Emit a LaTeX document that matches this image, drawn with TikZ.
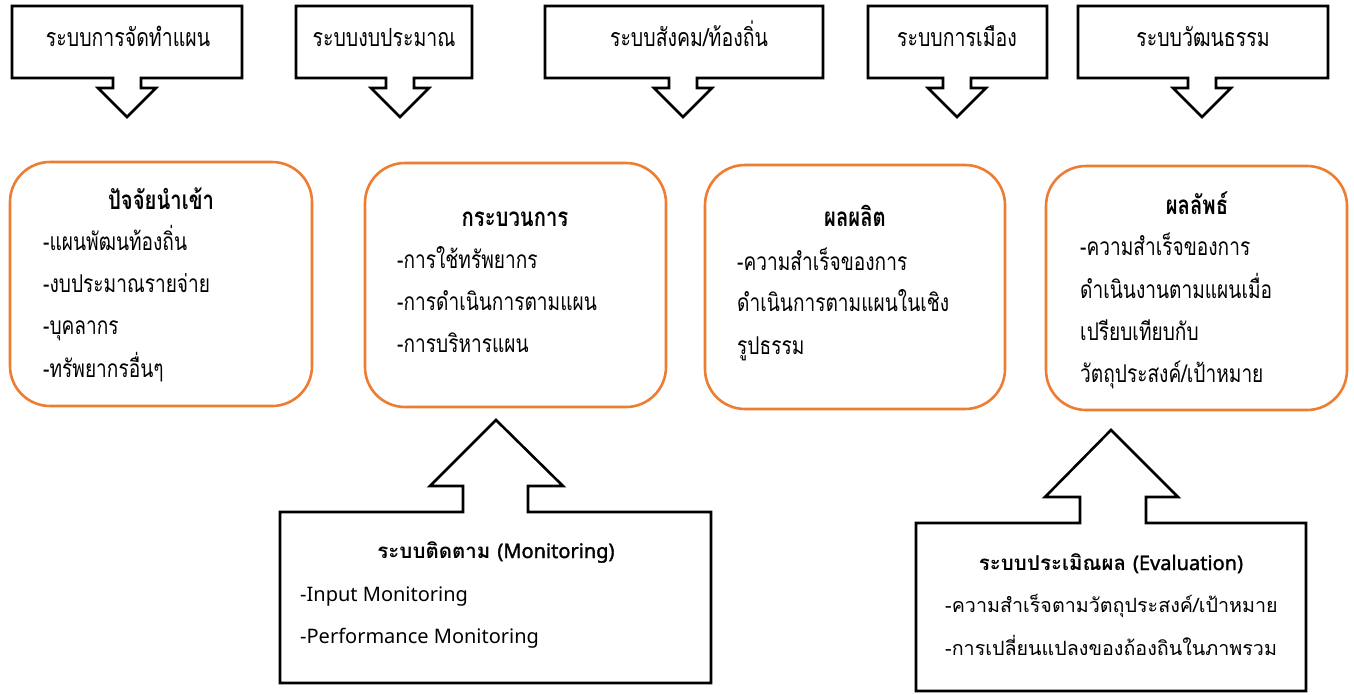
\documentclass[tikz,border=0pt]{standalone}
\usepackage{fontspec}
\setmainfont{Noto Sans}
\newfontfamily\thai[Script=Thai,FakeStretch=0.78]{Loma}
\newfontfamily\thaib[Script=Thai]{Loma}
\newfontfamily\latinbold[FakeBold=1.6]{Noto Sans}
\definecolor{boxorange}{RGB}{237,125,49}
\tikzset{
  callout/.style={draw=black,line width=2.6pt,fill=white,line join=miter},
  roundbox/.style={draw=boxorange,line width=2.6pt,rounded corners=40pt},
  toplabel/.style={inner sep=0pt,font=\thai\fontsize{25}{28}\selectfont,text height=16pt,text depth=6pt},
  boxtitle/.style={inner sep=0pt,font=\thai\bfseries\fontsize{26}{28}\selectfont,text height=16pt,text depth=6pt},
  boxline/.style={inner sep=0pt,anchor=west,font=\thai\fontsize{24.5}{28}\selectfont,text height=16pt,text depth=6pt},
  bottitle/.style={inner sep=0pt,font=\thaib\bfseries\fontsize{20.5}{24}\selectfont,text height=15pt,text depth=5pt},
  botthai/.style={inner sep=0pt,anchor=west,font=\thaib\fontsize{19.7}{24}\selectfont,text height=15pt,text depth=5pt},
  botline/.style={inner sep=0pt,anchor=west,font=\fontsize{20}{24}\selectfont,text height=15pt,text depth=5pt},
}
\begin{document}
\begin{tikzpicture}[x=1pt,y=-1pt]
\useasboundingbox (0,0) rectangle (1354,694);
% top callouts
\draw[callout] (12,6) -- (242,6) -- (242,78) -- (141,78) -- (141,88) -- (156,88) -- (127,117) -- (98,88) -- (113,88) -- (113,78) -- (12,78) -- cycle;
\draw[callout] (296,6) -- (472,6) -- (472,78) -- (414,78) -- (414,88) -- (429,88) -- (400,117) -- (371,88) -- (386,88) -- (386,78) -- (296,78) -- cycle;
\draw[callout] (545,6) -- (823,6) -- (823,78) -- (697,78) -- (697,88) -- (712,88) -- (683,117) -- (654,88) -- (669,88) -- (669,78) -- (545,78) -- cycle;
\draw[callout] (868,6) -- (1047,6) -- (1047,78) -- (971,78) -- (971,88) -- (986,88) -- (957,117) -- (928,88) -- (943,88) -- (943,78) -- (868,78) -- cycle;
\draw[callout] (1078,6) -- (1328,6) -- (1328,78) -- (1216,78) -- (1216,88) -- (1231,88) -- (1202,117) -- (1173,88) -- (1188,88) -- (1188,78) -- (1078,78) -- cycle;
\node[toplabel] (t1) at (128,41) {ระบบการจัดทำแผน};
\node[toplabel] (t2) at (384,41) {ระบบงบประมาณ};
\node[toplabel] (t3) at (689,41) {ระบบสังคม/ท้องถิ่น};
\node[toplabel] (t4) at (957,41) {ระบบการเมือง};
\node[toplabel] (t5) at (1203,41) {ระบบวัฒนธรรม};
% rounded boxes
\draw[roundbox] (10,162) rectangle (312,406);
\draw[roundbox] (365,163) rectangle (666,407);
\draw[roundbox] (705,165) rectangle (1005,409);
\draw[roundbox] (1046,166) rectangle (1347,410);
\node[boxtitle] (a0) at (161,204) {ปัจจัยนำเข้า};
\node[boxline] (a1) at (43,245) {-แผนพัฒนท้องถิ่น};
\node[boxline] (a2) at (43,287) {-งบประมาณรายจ่าย};
\node[boxline] (a3) at (43,329) {-บุคลากร};
\node[boxline] (a4) at (43,372) {-ทรัพยากรอื่นๆ};
\node[boxtitle] (b0) at (515,221) {กระบวนการ};
\node[boxline] (b1) at (397,263) {-การใช้ทรัพยากร};
\node[boxline] (b2) at (397,305) {-การดำเนินการตามแผน};
\node[boxline] (b3) at (397,347) {-การบริหารแผน};
\node[boxtitle] (c0) at (855,221) {ผลผลิต};
\node[boxline] (c1) at (737,265) {-ความสำเร็จของการ};
\node[boxline] (c2) at (737,306) {ดำเนินการตามแผนในเชิง};
\node[boxline] (c3) at (737,349) {รูปธรรม};
\node[boxtitle] (d0) at (1197,209) {ผลลัพธ์};
\node[boxline] (d1) at (1080,250) {-ความสำเร็จของการ};
\node[boxline] (d2) at (1080,293) {ดำเนินงานตามแผนเมื่อ};
\node[boxline] (d3) at (1080,335) {เปรียบเทียบกับ};
\node[boxline] (d4) at (1080,377) {วัตถุประสงค์/เป้าหมาย};
% bottom callouts
\draw[callout] (280,683) -- (280,512) -- (463,512) -- (463,486) -- (430,486) -- (496,420) -- (563,486) -- (528,486) -- (528,512) -- (711,512) -- (711,683) -- cycle;
\draw[callout] (916,691) -- (916,523) -- (1080,523) -- (1080,497) -- (1045,497) -- (1111,430) -- (1178,497) -- (1146,497) -- (1146,523) -- (1306,523) -- (1306,691) -- cycle;
\node[bottitle] (m0) at (496,553) {ระบบติดตาม {\latinbold\fontsize{20}{24}\selectfont (Monitoring)}};
\node[botline] (m1) at (300,596) {-Input Monitoring};
\node[botline] (m2) at (300,638) {-Performance Monitoring};
\node[bottitle] (e0) at (1111,565) {ระบบประเมิณผล {\latinbold\fontsize{20}{24}\selectfont (Evaluation)}};
\node[botthai] (e1) at (945,607) {-ความสำเร็จตามวัตถุประสงค์/เป้าหมาย};
\node[botthai] (e2) at (945,650) {-การเปลี่ยนแปลงของถ้องถินในภาพรวม};
\end{tikzpicture}
\end{document}
